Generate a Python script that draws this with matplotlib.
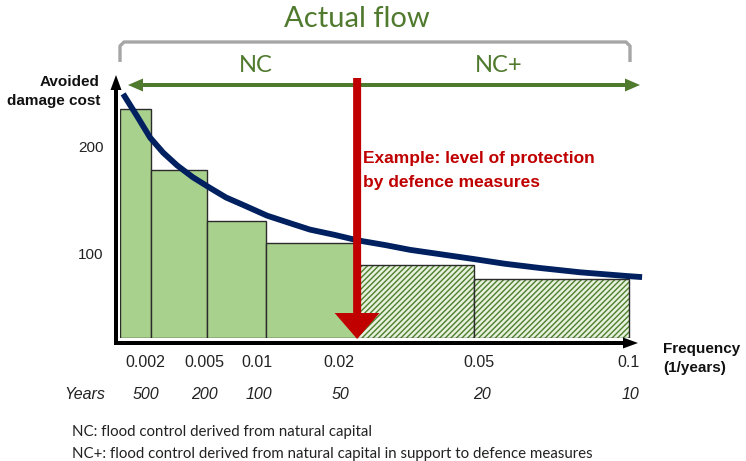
import matplotlib
matplotlib.use("Agg")
import matplotlib.pyplot as plt
from matplotlib.transforms import blended_transform_factory

# bars: left edge, width on a 0-100 schematic position scale, avoided damage cost
bar_left = [0, 6.0, 16.7, 28.1, 45.6, 68.1]
bar_width = [6.0, 10.7, 11.4, 17.5, 22.5, 29.8]
bar_value = [235, 178, 130, 109, 89, 76]
bar_hatched = [False, False, False, False, True, True]

# damage curve
curve_pos = [0.6, 3.3, 5.8, 8.3, 11.0, 14.0, 17.3, 20.4, 23.7, 28.3, 32.7, 36.5,
             41.3, 45.6, 51.0, 55.8, 61.5, 67.9, 74.0, 80.8, 88.5, 97.5, 100.4]
curve_val = [249, 228, 208, 194, 182, 171, 161, 152, 145, 135, 128, 122,
             117, 112, 107.5, 103, 99, 94.5, 90, 86, 82, 78.5, 77.5]

# x tick labels
freq_pos = [4.8, 16.2, 26.3, 42.1, 69.0, 97.7]
freq_labels = ["0.002", "0.005", "0.01", "0.02", "0.05", "0.1"]
year_pos = [5.0, 16.2, 26.7, 42.5, 69.6, 98.1]
year_labels = ["500", "200", "100", "50", "20", "10"]

y_ticks = [100, 200]
floor = 20.5
protection_pos = 45.6

arial = "Liberation Sans"
calibri = "Lato"
green_fill = "#a9d18e"
dark_green = "#507a2e"
red = "#c00000"
navy = "#002060"

fig = plt.figure(figsize=(7.46, 4.61), dpi=100)

# chart area
ax = fig.add_axes([120 / 746, 1 - 338 / 461, 520 / 746, 258 / 461])
ax.set_xlim(0, 100)
ax.set_ylim(floor, 262)
for i in range(len(bar_left)):
    h = bar_value[i] - floor
    if bar_hatched[i]:
        ax.bar(bar_left[i], h, bar_width[i], bottom=floor, align="edge",
               color="#e6f1de", edgecolor="#4f7f2c", hatch="//////", linewidth=0)
        ax.bar(bar_left[i], h, bar_width[i], bottom=floor, align="edge",
               fill=False, edgecolor="#2b2b2b", linewidth=1)
    else:
        ax.bar(bar_left[i], h, bar_width[i], bottom=floor, align="edge",
               color=green_fill, edgecolor="#2b2b2b", linewidth=1)
ax.plot(curve_pos, curve_val, color=navy, lw=4.2, solid_capstyle="butt",
        solid_joinstyle="round", clip_on=False, zorder=5)

ax.set_xticks(freq_pos)
ax.set_xticklabels(freq_labels, fontsize=11.5, family=arial, color="#222222")
ax.set_yticks(y_ticks)
ax.set_yticklabels([str(v) for v in y_ticks], fontsize=11, family=arial, color="#222222")
ax.tick_params(axis="x", length=0, pad=12)
ax.tick_params(axis="y", length=0, pad=12)
for s in ax.spines.values():
    s.set_visible(False)
ax.patch.set_alpha(0)

# overlay in pixel units for the annotations
ov = fig.add_axes([0, 0, 1, 1])
ov.set_xlim(0, 746)
ov.set_ylim(461, 0)
ov.axis("off")

# axes arrows
ov.arrow(116, 345, 0, -270, width=4, head_width=11, head_length=15,
         length_includes_head=True, color="black", lw=0)
ov.arrow(114, 343, 524, 0, width=4, head_width=11, head_length=15,
         length_includes_head=True, color="black", lw=0)

# bracket and title
ov.plot([120, 120, 124, 626, 630, 630], [62, 46, 42, 42, 46, 62], color="#a6a6a6",
        lw=2.4, solid_joinstyle="round", solid_capstyle="butt")
ov.text(357, 19, "Actual flow", ha="center", va="center", fontsize=21,
        family=calibri, color=dark_green)
ov.text(256, 65, "NC", ha="center", va="center", fontsize=17, family=calibri, color=dark_green)
ov.text(499, 65, "NC+", ha="center", va="center", fontsize=17, family=calibri, color=dark_green)

# green double arrow
mid = 385
ov.arrow(mid, 85, 640 - mid, 0, width=4, head_width=13, head_length=15,
         length_includes_head=True, color=dark_green, lw=0)
ov.arrow(mid, 85, 128 - mid, 0, width=4, head_width=13, head_length=15,
         length_includes_head=True, color=dark_green, lw=0)

# red protection arrow, x taken from the chart scale
trans = blended_transform_factory(ax.transData, ov.transData)
px = ov.transData.inverted().transform(ax.transData.transform((protection_pos, floor)))[0]
ov.arrow(px, 78, 0, 261, width=8, head_width=45, head_length=26,
         length_includes_head=True, color=red, lw=0)
ov.text(363, 158, "Example: level of protection", ha="left", va="center",
        fontsize=12.5, fontweight="bold", family=arial, color=red)
ov.text(363, 182, "by defence measures", ha="left", va="center",
        fontsize=12.5, fontweight="bold", family=arial, color=red)

# axis titles
ov.text(100, 82, "Avoided", ha="right", va="center", fontsize=11,
        fontweight="bold", family=arial, color="#111111")
ov.text(100, 101, "damage cost", ha="right", va="center", fontsize=11,
        fontweight="bold", family=arial, color="#111111")
ov.text(663, 349, "Frequency", ha="left", va="center", fontsize=11,
        fontweight="bold", family=arial, color="#111111")
ov.text(663, 368, "(1/years)", ha="left", va="center", fontsize=11,
        fontweight="bold", family=arial, color="#111111")

# years row
ov.text(85, 394, "Years", ha="center", va="center", fontsize=11.5,
        style="italic", family=arial, color="#222222")
for p, lab in zip(year_pos, year_labels):
    ov.text(p, 394, lab, ha="center", va="center", fontsize=11.5, style="italic",
            family=arial, color="#222222", transform=trans)

# footnotes
ov.text(72, 432, "NC: flood control derived from natural capital", ha="left",
        va="center", fontsize=10.8, family=calibri, color="#222222")
ov.text(72, 454, "NC+: flood control derived from natural capital in support to defence measures",
        ha="left", va="center", fontsize=10.8, family=calibri, color="#222222")

fig.savefig("out.png", dpi=100)
